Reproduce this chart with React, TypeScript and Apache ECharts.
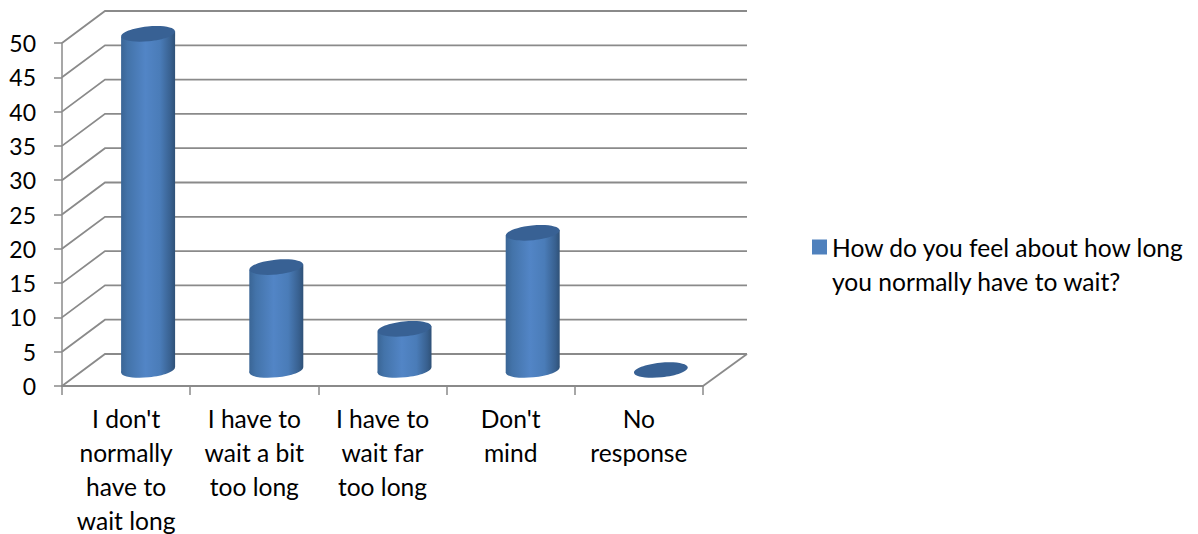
import React, { useEffect, useRef } from "react";
import * as echarts from "echarts";

const categories = [
  "I don't\nnormally\nhave to\nwait long",
  "I have to\nwait a bit\ntoo long",
  "I have to\nwait far\ntoo long",
  "Don't\nmind",
  "No\nresponse",
];
const responses = [49, 15, 6, 20, 0];
const gridValues = [0, 5, 10, 15, 20, 25, 30, 35, 40, 45, 50];
const seriesName = "How do you feel about how long\nyou normally have to wait?";

const FONT = "Lato, 'Open Sans', sans-serif";
const WALL = "#8a8a8a";
// Oblique offset between the front plane and the back wall.
const DEPTH_X = 43;
const DEPTH_Y = 32;
// Cylinder placement inside that depth, and its elliptical cross-section.
const BAR_SHIFT_X = 22;
const BAR_SHIFT_Y = 16;
const RX = 27;
const RY = 7.4;
const TILT = 0.1;

export default function App() {
  const ref = useRef<HTMLDivElement>(null);

  useEffect(() => {
    const chart = echarts.init(ref.current!, null, { renderer: "svg" });
    chart.setOption({
      animation: false,
      backgroundColor: "#fff",
      grid: { left: 62, right: 495, top: 43, bottom: 148, outerBoundsMode: "none" },
      legend: {
        left: 807,
        top: 191,
        orient: "vertical",
        icon: "rect",
        itemWidth: 15,
        itemHeight: 15,
        data: [seriesName],
        // The leading blank line keeps the swatch level with the first text line.
        formatter: (name: string) => "\n" + name,
        textStyle: {
          fontFamily: FONT,
          fontSize: 24.6,
          lineHeight: 34,
          color: "#000",
        },
      },
      xAxis: {
        type: "category",
        data: categories,
        boundaryGap: true,
        axisLine: { lineStyle: { color: WALL, width: 2 } },
        axisTick: {
          show: true,
          alignWithLabel: false,
          length: 9,
          lineStyle: { color: WALL, width: 1.5 },
        },
        axisLabel: {
          interval: 0,
          margin: 15,
          fontFamily: FONT,
          fontSize: 24.6,
          lineHeight: 34,
          color: "#000",
        },
      },
      yAxis: {
        type: "value",
        min: 0,
        max: 50,
        interval: 5,
        splitLine: { show: false },
        axisLine: { show: true, lineStyle: { color: WALL, width: 1.5 } },
        axisTick: { show: true, length: 8, lineStyle: { color: WALL, width: 1.5 } },
        axisLabel: {
          margin: 26,
          fontFamily: FONT,
          fontSize: 23,
          color: "#000",
        },
      },
      series: [
        {
          // Side wall, back wall and floor edge of the 3D frame.
          type: "custom",
          name: "frame",
          silent: true,
          z: 1,
          data: gridValues.map((v) => [0, v]),
          renderItem: (params: any, api: any) => {
            const v = api.value(1);
            const y = api.coord([0, v])[1];
            const left = params.coordSys.x;
            const right = left + params.coordSys.width;
            const style = { stroke: WALL, lineWidth: 1.8, fill: "none" };
            const children: any[] = [
              {
                type: "polyline",
                shape: {
                  points: [
                    [left, y],
                    [left + DEPTH_X, y - DEPTH_Y],
                    [right + DEPTH_X + 1, y - DEPTH_Y],
                  ],
                },
                style,
              },
            ];
            if (v === 0) {
              children.push({
                type: "line",
                shape: { x1: right, y1: y, x2: right + DEPTH_X + 1, y2: y - DEPTH_Y },
                style,
              });
            }
            return { type: "group", children };
          },
        },
        {
          // Cylinders standing between the front plane and the back wall.
          type: "custom",
          name: seriesName,
          silent: true,
          z: 2,
          itemStyle: { color: "#4f81bd" },
          encode: { x: 0, y: 1 },
          data: responses.map((v, i) => [i, v]),
          renderItem: (_params: any, api: any) => {
            const top = api.coord([api.value(0), api.value(1)]);
            const base = api.coord([api.value(0), 0]);
            const cx = top[0] + BAR_SHIFT_X;
            const topY = top[1] - BAR_SHIFT_Y;
            const baseY = base[1] - BAR_SHIFT_Y;
            const dy = RX * Math.sin(TILT);
            const body = () =>
              new echarts.graphic.LinearGradient(0, 0, 1, 0, [
                { offset: 0, color: "#3a6595" },
                { offset: 0.12, color: "#4373a9" },
                { offset: 0.45, color: "#5285c6" },
                { offset: 0.72, color: "#4a7cb8" },
                { offset: 0.92, color: "#38608f" },
                { offset: 1, color: "#2f5177" },
              ]);
            const children: any[] = [];
            if (api.value(1) > 0) {
              children.push(
                {
                  type: "ellipse",
                  x: cx,
                  y: baseY,
                  rotation: TILT,
                  shape: { cx: 0, cy: 0, rx: RX, ry: RY },
                  style: { fill: body() },
                },
                {
                  type: "polygon",
                  shape: {
                    points: [
                      [cx - RX, topY + dy],
                      [cx - RX, baseY + dy],
                      [cx + RX, baseY - dy],
                      [cx + RX, topY - dy],
                    ],
                  },
                  style: { fill: body() },
                },
              );
            }
            children.push({
              type: "ellipse",
              x: cx,
              y: topY,
              rotation: TILT,
              shape: { cx: 0, cy: 0, rx: RX, ry: RY },
              style: { fill: "#386194" },
            });
            return { type: "group", children };
          },
        },
      ],
    });
    return () => chart.dispose();
  }, []);

  return (
    <div
      ref={ref}
      style={{ position: "fixed", left: 0, top: 0, width: 1198, height: 534 }}
    />
  );
}
